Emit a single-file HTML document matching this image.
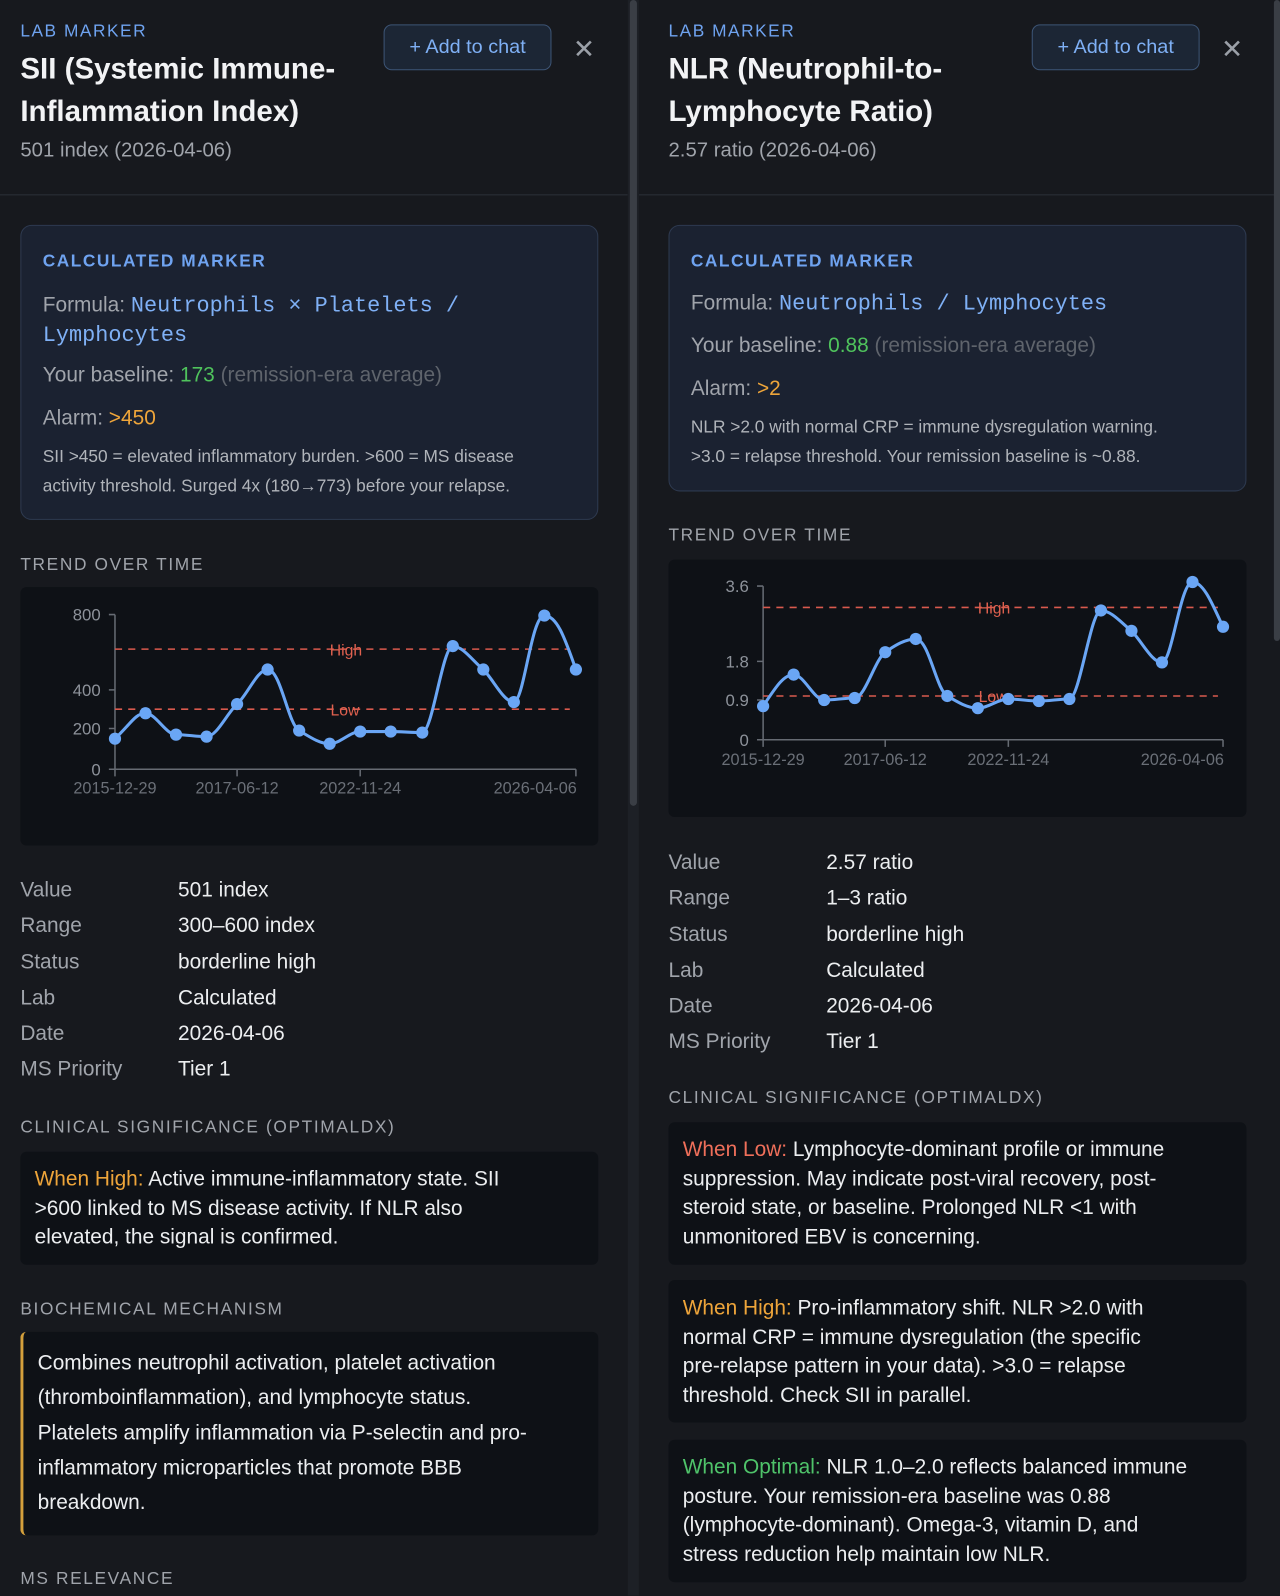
<!DOCTYPE html>
<html><head><meta charset="utf-8"><style>
*{box-sizing:border-box;margin:0;padding:0}
html,body{width:1280px;height:1596px;overflow:hidden;background:#17191e}
#w{position:absolute;left:0;top:0;width:1258px;height:1568px;transform:scale(1.01749);transform-origin:0 0;font-family:"Liberation Sans",Arial,sans-serif;color:#e8eaed}
.p{position:absolute;top:0;height:1568px;background:#17191e;overflow:hidden}
.a{position:absolute;white-space:nowrap}
.lm{font-size:17px;letter-spacing:1.5px;color:#6fa3f0}
.t{font-size:29px;font-weight:bold;line-height:42px;color:#f2f3f5;white-space:normal}
.sub{font-size:20px;color:#a0a4ab}
.btn{position:absolute;width:165px;height:45px;border:1.5px solid #3d5576;border-radius:8px;background:#1c2635;color:#7fb0f5;font-size:19.5px;text-align:center;line-height:42px}
.x{font-size:26px;color:#9ba0a8}
.hb{position:absolute;left:0;top:191px;height:1px;background:#2c3038}
.card{position:absolute;border:1.5px solid #2e3a50;border-radius:11px;background:#1b2231}
.cm{font-size:17px;font-weight:bold;letter-spacing:1.5px;color:#6fa3f0}
.lbl{color:#a0a4ab}
.mono{font-family:"Liberation Mono",monospace;color:#7fb0f5;font-size:21.5px}
.sec{font-size:17px;letter-spacing:1.6px;color:#a0a4ab}
.box{position:absolute;background:#0e1116;border-radius:6px}
.txt{font-size:20.5px;line-height:28.5px;color:#eceef0}
.dk{font-size:20.5px;color:#a0a4ab}
.dv{font-size:20.5px;color:#eceef0}
</style></head><body><div id="w">

<!-- LEFT PANEL -->
<div class="p" style="left:0;width:617px">
<div class="a lm" style="left:20px;top:21px">LAB MARKER</div>
<div class="a t" style="left:20px;top:47px;width:340px">SII (Systemic Immune-Inflammation Index)</div>
<div class="a sub" style="left:20px;top:137px">501 index (2026-04-06)</div>
<div class="btn" style="left:377px;top:24px">+ Add to chat</div>
<div class="a x" style="left:563px;top:33px">✕</div>
<div class="hb" style="width:617px"></div>

<div class="card" style="left:20px;top:221px;width:568px;height:290px"></div>
<div class="a cm" style="left:42px;top:247px">CALCULATED MARKER</div>
<div class="a" style="left:42px;top:286px;font-size:20.5px;line-height:28px"><span class="lbl">Formula: </span><span class="mono">Neutrophils × Platelets /</span><br><span class="mono">Lymphocytes</span></div>
<div class="a" style="left:42px;top:357px;font-size:20.5px"><span class="lbl">Your baseline: </span><span style="color:#4fc35c">173</span> <span style="color:#5f646c">(remission-era average)</span></div>
<div class="a" style="left:42px;top:399px;font-size:20.5px"><span class="lbl">Alarm: </span><span style="color:#eea53a">&gt;450</span></div>
<div class="a" style="left:42px;top:435px;font-size:17px;line-height:28.5px;color:#b0b4ba">SII &gt;450 = elevated inflammatory burden. &gt;600 = MS disease<br>activity threshold. Surged 4x (180→773) before your relapse.</div>

<div class="a sec" style="left:20px;top:545px">TREND OVER TIME</div>
<div class="box" style="left:20px;top:577px;width:568px;height:254px"></div>
<svg class="a" style="left:0;top:0" width="617" height="900" font-family="Liberation Sans,Arial,sans-serif">
<g stroke="#666b73" stroke-width="1.5" fill="none"><path d="M113 604V756H566"/><path d="M107 604H113M107 678H113M107 716H113M107 756H113M113 756V763M233 756V763M354 756V763M566 756V763"/></g>
<g fill="#8d929a" font-size="16.5" text-anchor="end"><text x="99" y="610">800</text><text x="99" y="684">400</text><text x="99" y="722">200</text><text x="99" y="762">0</text></g>
<g fill="#6a6f77" font-size="16" text-anchor="middle"><text x="113" y="780">2015-12-29</text><text x="233" y="780">2017-06-12</text><text x="354" y="780">2022-11-24</text><text x="526" y="780">2026-04-06</text></g>
<g stroke="#d95a4e" stroke-width="1.5" stroke-dasharray="7,6"><path d="M113 638H560M113 697H560"/></g>
<g fill="#e0614f" font-size="15.5" text-anchor="middle"><text x="340" y="644">High</text><text x="339" y="703">Low</text></g>
<path d="M113 726C128 712 133 701 143 701C153 701 163 722 173 722C183 722 193 724 203 724C213 724 223 701 233 692C243 683 253 658 263 658C276 658 283 712 294 718C304 724 314 731 324 731C334 731 344 719 354 719C364 719 374 719 384 719C394 719 405 720 415 720C425 720 435 635 445 635C455 635 465 650 475 658C485 668 495 690 505 690C515 690 522 605 535 605C548 605 556 630 566 658" stroke="#6aa6f5" stroke-width="3" fill="none"/>
<g fill="#6aa6f5"><circle cx="113" cy="726" r="6"/><circle cx="143" cy="701" r="6"/><circle cx="173" cy="722" r="6"/><circle cx="203" cy="724" r="6"/><circle cx="233" cy="692" r="6"/><circle cx="263" cy="658" r="6"/><circle cx="294" cy="718" r="6"/><circle cx="324" cy="731" r="6"/><circle cx="354" cy="719" r="6"/><circle cx="384" cy="719" r="6"/><circle cx="415" cy="720" r="6"/><circle cx="445" cy="635" r="6"/><circle cx="475" cy="658" r="6"/><circle cx="505" cy="690" r="6"/><circle cx="535" cy="605" r="6"/><circle cx="566" cy="658" r="6"/></g>
</svg>

<div class="a dk" style="left:20px;top:857px;line-height:35.3px">Value<br>Range<br>Status<br>Lab<br>Date<br>MS Priority</div>
<div class="a dv" style="left:175px;top:857px;line-height:35.3px">501 index<br>300–600 index<br>borderline high<br>Calculated<br>2026-04-06<br>Tier 1</div>

<div class="a sec" style="left:20px;top:1098px">CLINICAL SIGNIFICANCE (OPTIMALDX)</div>
<div class="box" style="left:20px;top:1132px;width:568px;height:111px"></div>
<div class="a txt" style="left:34px;top:1145px"><span style="color:#eea53a">When High:</span> Active immune-inflammatory state. SII<br>&gt;600 linked to MS disease activity. If NLR also<br>elevated, the signal is confirmed.</div>

<div class="a sec" style="left:20px;top:1277px">BIOCHEMICAL MECHANISM</div>
<div class="box" style="left:20px;top:1309px;width:568px;height:200px;border-left:3px solid #d4a03c;border-radius:6px"></div>
<div class="a txt" style="left:37px;top:1323px;line-height:34.3px">Combines neutrophil activation, platelet activation<br>(thromboinflammation), and lymphocyte status.<br>Platelets amplify inflammation via P-selectin and pro-<br>inflammatory microparticles that promote BBB<br>breakdown.</div>
<div class="a sec" style="left:20px;top:1542px">MS RELEVANCE</div>
</div>
<!-- left scrollbar -->
<div style="position:absolute;left:617px;top:0;width:11px;height:1568px;background:#1d2026"></div>
<div style="position:absolute;left:619px;top:0;width:7px;height:792px;background:#3a3e45;border-radius:4px"></div>
<div style="position:absolute;left:632px;top:803px;width:6px;height:56px;background:#3a3e45;border-radius:3px"></div>

<!-- RIGHT PANEL -->
<div class="p" style="left:628px;width:630px;background:#17191e">
<div style="position:absolute;left:-628px;top:0;width:1258px;height:1568px">
<div class="a lm" style="left:657px;top:21px">LAB MARKER</div>
<div class="a t" style="left:657px;top:47px;width:340px">NLR (Neutrophil-to-Lymphocyte Ratio)</div>
<div class="a sub" style="left:657px;top:137px">2.57 ratio (2026-04-06)</div>
<div class="btn" style="left:1014px;top:24px">+ Add to chat</div>
<div class="a x" style="left:1200px;top:33px">✕</div>
<div class="hb" style="left:628px;width:630px"></div>

<div class="card" style="left:657px;top:221px;width:568px;height:262px"></div>
<div class="a cm" style="left:679px;top:247px">CALCULATED MARKER</div>
<div class="a" style="left:679px;top:286px;font-size:20.5px"><span class="lbl">Formula: </span><span class="mono">Neutrophils / Lymphocytes</span></div>
<div class="a" style="left:679px;top:328px;font-size:20.5px"><span class="lbl">Your baseline: </span><span style="color:#4fc35c">0.88</span> <span style="color:#5f646c">(remission-era average)</span></div>
<div class="a" style="left:679px;top:370px;font-size:20.5px"><span class="lbl">Alarm: </span><span style="color:#eea53a">&gt;2</span></div>
<div class="a" style="left:679px;top:406px;font-size:17px;line-height:28.5px;color:#b0b4ba">NLR &gt;2.0 with normal CRP = immune dysregulation warning.<br>&gt;3.0 = relapse threshold. Your remission baseline is ~0.88.</div>

<div class="a sec" style="left:657px;top:516px">TREND OVER TIME</div>
<div class="box" style="left:657px;top:550px;width:568px;height:253px"></div>
<svg class="a" style="left:628px;top:0" width="630" height="820" viewBox="628 0 630 820" font-family="Liberation Sans,Arial,sans-serif">
<g stroke="#666b73" stroke-width="1.5" fill="none"><path d="M750 576V727H1202"/><path d="M744 576H750M744 650H750M744 688H750M744 727H750M750 727V734M870 727V734M991 727V734M1202 727V734"/></g>
<g fill="#8d929a" font-size="16.5" text-anchor="end"><text x="736" y="582">3.6</text><text x="736" y="656">1.8</text><text x="736" y="694">0.9</text><text x="736" y="733">0</text></g>
<g fill="#6a6f77" font-size="16" text-anchor="middle"><text x="750" y="752">2015-12-29</text><text x="870" y="752">2017-06-12</text><text x="991" y="752">2022-11-24</text><text x="1162" y="752">2026-04-06</text></g>
<g stroke="#d95a4e" stroke-width="1.5" stroke-dasharray="7,6"><path d="M750 597H1197M750 684H1197"/></g>
<g fill="#e0614f" font-size="15.5" text-anchor="middle"><text x="977" y="603">High</text><text x="976" y="690">Low</text></g>
<path d="M750 694C762 676 770 663 780 663C790 663 800 688 810 688C820 688 830 686 840 686C850 686 860 648 870 641C880 634 890 628 900 628C913 628 920 678 931 684C941 690 951 696 961 696C971 696 981 687 991 687C1001 687 1011 689 1021 689C1031 689 1041 687 1051 687C1061 687 1072 600 1082 600C1092 600 1102 612 1112 620C1122 630 1132 651 1142 651C1152 651 1160 572 1172 572C1184 572 1194 600 1202 616" stroke="#6aa6f5" stroke-width="3" fill="none"/>
<g fill="#6aa6f5"><circle cx="750" cy="694" r="6"/><circle cx="780" cy="663" r="6"/><circle cx="810" cy="688" r="6"/><circle cx="840" cy="686" r="6"/><circle cx="870" cy="641" r="6"/><circle cx="900" cy="628" r="6"/><circle cx="931" cy="684" r="6"/><circle cx="961" cy="696" r="6"/><circle cx="991" cy="687" r="6"/><circle cx="1021" cy="689" r="6"/><circle cx="1051" cy="687" r="6"/><circle cx="1082" cy="600" r="6"/><circle cx="1112" cy="620" r="6"/><circle cx="1142" cy="651" r="6"/><circle cx="1172" cy="572" r="6"/><circle cx="1202" cy="616" r="6"/></g>
</svg>

<div class="a dk" style="left:657px;top:830px;line-height:35.3px">Value<br>Range<br>Status<br>Lab<br>Date<br>MS Priority</div>
<div class="a dv" style="left:812px;top:830px;line-height:35.3px">2.57 ratio<br>1–3 ratio<br>borderline high<br>Calculated<br>2026-04-06<br>Tier 1</div>

<div class="a sec" style="left:657px;top:1069px">CLINICAL SIGNIFICANCE (OPTIMALDX)</div>
<div class="box" style="left:657px;top:1103px;width:568px;height:140px"></div>
<div class="a txt" style="left:671px;top:1116px"><span style="color:#ef6f5a">When Low:</span> Lymphocyte-dominant profile or immune<br>suppression. May indicate post-viral recovery, post-<br>steroid state, or baseline. Prolonged NLR &lt;1 with<br>unmonitored EBV is concerning.</div>
<div class="box" style="left:657px;top:1258px;width:568px;height:140px"></div>
<div class="a txt" style="left:671px;top:1272px"><span style="color:#eea53a">When High:</span> Pro-inflammatory shift. NLR &gt;2.0 with<br>normal CRP = immune dysregulation (the specific<br>pre-relapse pattern in your data). &gt;3.0 = relapse<br>threshold. Check SII in parallel.</div>
<div class="box" style="left:657px;top:1415px;width:568px;height:140px"></div>
<div class="a txt" style="left:671px;top:1428px"><span style="color:#4fc36a">When Optimal:</span> NLR 1.0–2.0 reflects balanced immune<br>posture. Your remission-era baseline was 0.88<br>(lymphocyte-dominant). Omega-3, vitamin D, and<br>stress reduction help maintain low NLR.</div>
</div>
</div>
<div style="position:absolute;left:1252px;top:0;width:6px;height:630px;background:#3a3e45;border-radius:3px"></div>
</div></body></html>
